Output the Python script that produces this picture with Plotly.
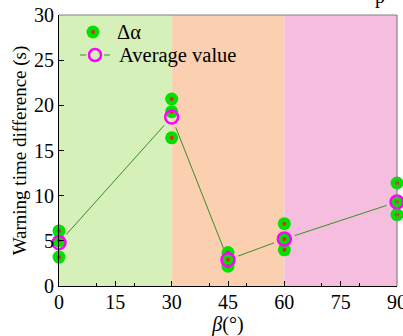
import math
import plotly.graph_objects as go

# Tilt angle beta (degrees) and the repeated warning-time measurements
beta = [0, 30, 45, 60, 90]
delta_alpha_runs = [
    [6.1, 5.0, 3.2],
    [20.7, 19.3, 16.4],
    [3.7, 2.9, 2.2],
    [6.9, 5.2, 4.0],
    [11.4, 9.3, 7.9],
]
avg_value = [4.8, 18.7, 2.9, 5.2, 9.3]

x_ticks = [0, 15, 30, 45, 60, 75, 90]
y_ticks = [0, 5, 10, 15, 20, 25, 30]
x_range = [0, 90]
y_range = [0, 30]

# Shaded beta ranges
bands = [(0, 30, "rgb(214,240,185)"), (30, 60, "rgb(251,208,176)"), (60, 90, "rgb(245,190,222)")]

pts_x = [b for b, runs in zip(beta, delta_alpha_runs) for _ in runs]
pts_y = [v for runs in delta_alpha_runs for v in runs]

FONT = "'Times New Roman', 'Liberation Serif', serif"
MAGENTA = "rgb(255,0,255)"
LINE_GREEN = "rgb(60,140,40)"
DOT_GREEN = "rgb(0,225,0)"
DOT_RED = "rgb(215,45,20)"

# plot-area geometry (pixels)
W, H = 403, 336
ML, MR, MT, MB = 59, 6, 15, 50
PW, PH = W - ML - MR, H - MT - MB


def px(x):
    return (x - ML) / PW


def py(y):
    return (H - MB - y) / PH


# connecting line with a small gap around each average marker
sx = PW / (x_range[1] - x_range[0])
sy = PH / (y_range[1] - y_range[0])
GAP = 11
seg_x, seg_y = [], []
for i in range(len(beta) - 1):
    dx = (beta[i + 1] - beta[i]) * sx
    dy = (avg_value[i + 1] - avg_value[i]) * sy
    f = GAP / math.hypot(dx, dy)
    seg_x += [beta[i] + f * (beta[i + 1] - beta[i]), beta[i + 1] - f * (beta[i + 1] - beta[i]), None]
    seg_y += [avg_value[i] + f * (avg_value[i + 1] - avg_value[i]),
              avg_value[i + 1] - f * (avg_value[i + 1] - avg_value[i]), None]

fig = go.Figure()

fig.add_trace(go.Scatter(
    x=seg_x, y=seg_y, mode="lines",
    line=dict(color=LINE_GREEN, width=1),
    hoverinfo="skip", cliponaxis=False,
))
fig.add_trace(go.Scatter(
    x=pts_x, y=pts_y, mode="markers", name="Δα",
    marker=dict(size=13, color=DOT_GREEN, line=dict(width=0)),
    cliponaxis=False,
))
fig.add_trace(go.Scatter(
    x=pts_x, y=pts_y, mode="markers",
    marker=dict(size=4, color=DOT_RED, line=dict(width=0)),
    cliponaxis=False,
))
fig.add_trace(go.Scatter(
    x=beta, y=avg_value, mode="markers", name="Average value",
    marker=dict(size=13, color="rgba(0,0,0,0)", symbol="circle",
                line=dict(width=2.5, color=MAGENTA)),
    cliponaxis=False,
))

for x0, x1, c in bands:
    fig.add_shape(type="rect", xref="x", yref="y", x0=x0, x1=x1, y0=y_range[0], y1=y_range[1],
                  fillcolor=c, line=dict(width=0), layer="below")

# legend box, drawn by hand
fig.add_shape(type="circle", xref="paper", yref="paper",
              x0=px(86.5), x1=px(99.5), y0=py(38.5), y1=py(25.5),
              fillcolor=DOT_GREEN, line=dict(width=0))
fig.add_shape(type="circle", xref="paper", yref="paper",
              x0=px(91), x1=px(95), y0=py(34), y1=py(30),
              fillcolor=DOT_RED, line=dict(width=0))
for a, b in [(80, 86), (104, 110)]:
    fig.add_shape(type="line", xref="paper", yref="paper",
                  x0=px(a), x1=px(b), y0=py(55), y1=py(55),
                  line=dict(color=LINE_GREEN, width=1))
fig.add_shape(type="circle", xref="paper", yref="paper",
              x0=px(89), x1=px(101), y0=py(61), y1=py(49),
              fillcolor="rgba(0,0,0,0)", line=dict(color=MAGENTA, width=2.5))
fig.add_annotation(text="Δα", xref="paper", yref="paper", x=px(115), y=py(32),
                   xanchor="left", yanchor="middle", showarrow=False,
                   font=dict(family=FONT, size=20.5, color="black"))
fig.add_annotation(text="Average value", xref="paper", yref="paper", x=px(117), y=py(55),
                   xanchor="left", yanchor="middle", showarrow=False,
                   font=dict(family=FONT, size=20.5, color="black"))

axis_common = dict(
    showgrid=False, zeroline=False, ticks="inside", ticklen=5, tickwidth=1,
    tickcolor="black", linecolor="black", linewidth=1.2,
    tickfont=dict(family=FONT, size=20, color="black"),
    minor=dict(ticks="inside", ticklen=3, tickcolor="black", nticks=2),
    ticklabeloverflow="allow", automargin=False,
)

fig.update_xaxes(range=x_range, tickvals=x_ticks, **axis_common,
                 ticklabelstandoff=-2,
                 title=dict(text="<i>β</i>(°)", font=dict(family=FONT, size=20, color="black"),
                            standoff=0))
fig.update_yaxes(range=y_range, tickvals=y_ticks, **axis_common,
                 title=dict(text="Warning time difference (s)",
                            font=dict(family=FONT, size=19, color="black"), standoff=2))

# grey frame on top and right
fig.add_shape(type="line", xref="paper", yref="paper", x0=0, x1=1, y0=1, y1=1,
              line=dict(color="rgb(130,130,130)", width=1.2))
fig.add_shape(type="line", xref="paper", yref="paper", x0=1, x1=1, y0=0, y1=1,
              line=dict(color="rgb(130,130,130)", width=1.2))

fig.add_annotation(text="p", xref="paper", yref="paper", x=px(380), y=py(-4),
                   xanchor="center", yanchor="middle", showarrow=False,
                   font=dict(family=FONT, size=20, color="black"))

fig.update_layout(
    width=W, height=H,
    margin=dict(l=ML, r=MR, t=MT, b=MB),
    paper_bgcolor="white", plot_bgcolor="white",
    showlegend=False,
)

fig.write_html("out.html")
